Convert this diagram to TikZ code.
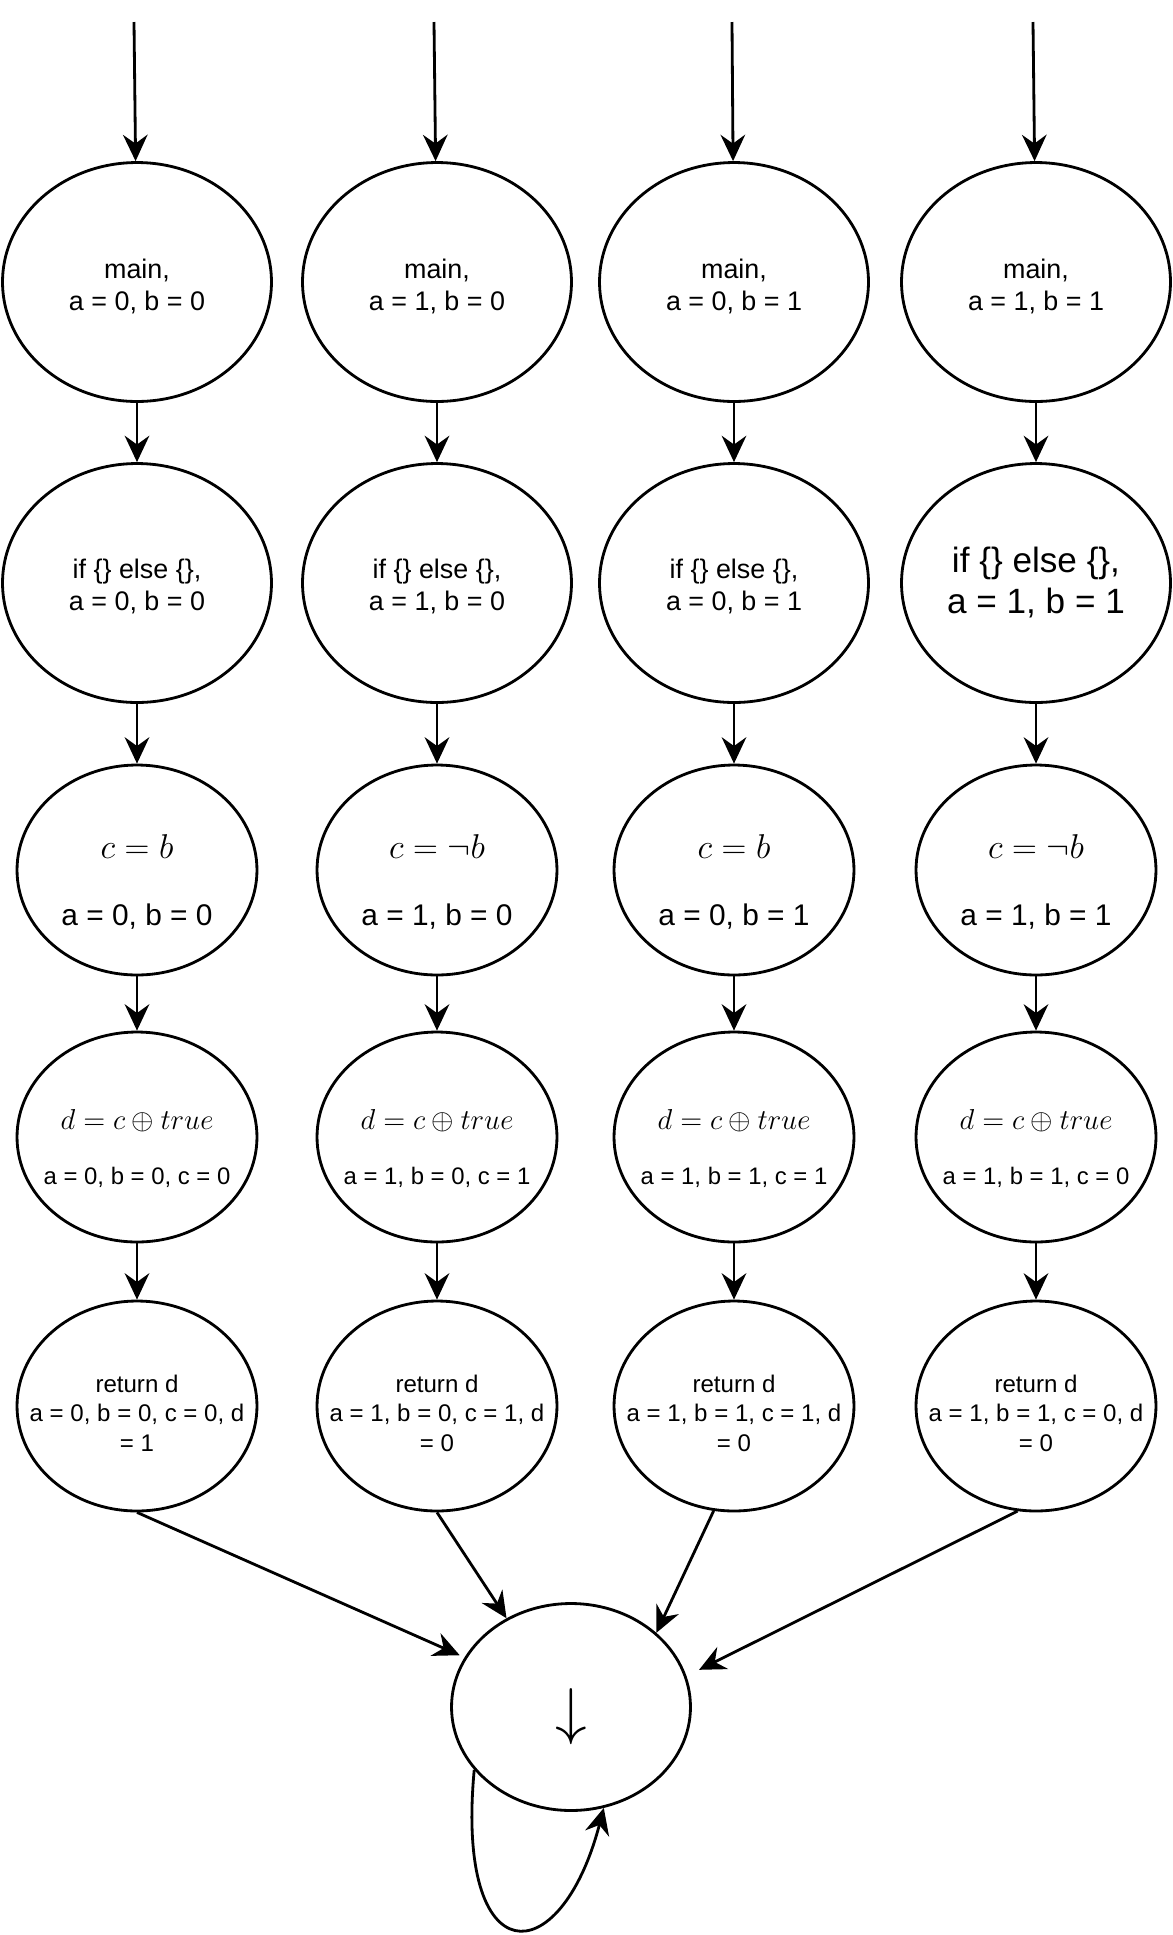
\RequirePackage{fix-cm}
\documentclass[tikz,border=0pt]{standalone}
\usepackage{amsmath}
\usepackage[no-math]{fontspec}
\setmainfont{Liberation Sans}
\usetikzlibrary{arrows.meta,shapes.geometric}

% text lines of a state, set a little lower than the middle
\newcommand{\lowered}[2]{\raisebox{-#1}[\height][\depth]{\begin{tabular}{@{}c@{}}#2\end{tabular}}}

\begin{document}
\begin{tikzpicture}[x=0.02cm,y=-0.02cm,>={Stealth[length=15pt,width=14pt,inset=5pt]},
    state/.style={ellipse,draw,line width=1.6pt,inner sep=0pt,inner xsep=-1.5cm},
    wide/.style={state,minimum width=5.38cm,minimum height=4.78cm,font=\fontsize{15.3}{18.2}\selectfont},
    narrow/.style={state,minimum width=4.8cm,minimum height=4.2cm},
    cnode/.style={narrow,font=\fontsize{17}{20}\selectfont},
    dnode/.style={narrow,font=\fontsize{13.6}{16.3}\selectfont},
    rnode/.style={narrow,font=\fontsize{13.7}{16.8}\selectfont},
    flow/.style={->,line width=1.6pt}]
  \useasboundingbox (0,0) rectangle (1173,1935);
  % entry points
  \coordinate (s0) at (134,22);
  \coordinate (s1) at (434,22);
  \coordinate (s2) at (732,22);
  \coordinate (s3) at (1033,22);
  % main
  \node[wide] (m0) at (137,282) {\lowered{3.5pt}{main,\\a = 0, b = 0}};
  \node[wide] (m1) at (437,282) {\lowered{3.5pt}{main,\\a = 1, b = 0}};
  \node[wide] (m2) at (734,282) {\lowered{3.5pt}{main,\\a = 0, b = 1}};
  \node[wide] (m3) at (1036,282) {\lowered{3.5pt}{main,\\a = 1, b = 1}};
  % if / else
  \node[wide] (i0) at (137,583) {\lowered{3.1pt}{if \{\} else \{\},\\a = 0, b = 0}};
  \node[wide] (i1) at (437,583) {\lowered{3.1pt}{if \{\} else \{\},\\a = 1, b = 0}};
  \node[wide] (i2) at (734,583) {\lowered{3.1pt}{if \{\} else \{\},\\a = 0, b = 1}};
  \node[wide,font=\fontsize{20}{23}\selectfont] (i3) at (1036,583) {\lowered{1.2pt}{if \{\} else \{\},\\a = 1, b = 1}};
  % c
  \node[cnode] (c0) at (137,870) {\lowered{8.7pt}{{\fontsize{19.6}{24}\selectfont$c = b$}\\[18pt]a = 0, b = 0}};
  \node[cnode] (c1) at (437,870) {\lowered{8.7pt}{{\fontsize{19.6}{24}\selectfont$c = \neg b$}\\[18pt]a = 1, b = 0}};
  \node[cnode] (c2) at (734,870) {\lowered{8.7pt}{{\fontsize{19.6}{24}\selectfont$c = b$}\\[18pt]a = 0, b = 1}};
  \node[cnode] (c3) at (1036,870) {\lowered{8.7pt}{{\fontsize{19.6}{24}\selectfont$c = \neg b$}\\[18pt]a = 1, b = 1}};
  % d
  \node[dnode] (d0) at (137,1137) {\lowered{8pt}{{\fontsize{16.4}{19}\selectfont$d = c \oplus true$}\\[15pt]a = 0, b = 0, c = 0}};
  \node[dnode] (d1) at (437,1137) {\lowered{8pt}{{\fontsize{16.4}{19}\selectfont$d = c \oplus true$}\\[15pt]a = 1, b = 0, c = 1}};
  \node[dnode] (d2) at (734,1137) {\lowered{8pt}{{\fontsize{16.4}{19}\selectfont$d = c \oplus true$}\\[15pt]a = 1, b = 1, c = 1}};
  \node[dnode] (d3) at (1036,1137) {\lowered{8pt}{{\fontsize{16.4}{19}\selectfont$d = c \oplus true$}\\[15pt]a = 1, b = 1, c = 0}};
  % return
  \node[rnode] (r0) at (137,1406) {\lowered{5.7pt}{return d\\a = 0, b = 0, c = 0, d\\= 1}};
  \node[rnode] (r1) at (437,1406) {\lowered{5.7pt}{return d\\a = 1, b = 0, c = 1, d\\= 0}};
  \node[rnode] (r2) at (734,1406) {\lowered{5.7pt}{return d\\a = 1, b = 1, c = 1, d\\= 0}};
  \node[rnode] (r3) at (1036,1406) {\lowered{5.7pt}{return d\\a = 1, b = 1, c = 0, d\\= 0}};
  % bottom
  \node[narrow,minimum width=4.78cm,minimum height=4.14cm,font=\fontsize{36}{42}\selectfont] (sink) at (571,1707) {\lowered{6.3pt}{$\downarrow$}};

  \draw[flow] (s0) -- (m0);
  \draw[flow] (s1) -- (m1);
  \draw[flow] (s2) -- (m2);
  \draw[flow] (s3) -- (m3);
  \draw[flow] (m0) -- (i0);
  \draw[flow] (m1) -- (i1);
  \draw[flow] (m2) -- (i2);
  \draw[flow] (m3) -- (i3);
  \draw[flow] (i0) -- (c0);
  \draw[flow] (i1) -- (c1);
  \draw[flow] (i2) -- (c2);
  \draw[flow] (i3) -- (c3);
  \draw[flow] (c0) -- (d0);
  \draw[flow] (c1) -- (d1);
  \draw[flow] (c2) -- (d2);
  \draw[flow] (c3) -- (d3);
  \draw[flow] (d0) -- (r0);
  \draw[flow] (d1) -- (r1);
  \draw[flow] (d2) -- (r2);
  \draw[flow] (d3) -- (r3);
  \draw[flow,shorten >=3pt] (r0.south) -- (sink.155);
  \draw[flow] (r1.south) -- (sink.126);
  \draw[flow] (r2.259) -- (sink.41);
  \draw[flow,shorten >=8pt] (r3.260) -- (sink.15);
  \draw[flow] (sink.213) .. controls (455,1975) and (560,1975) .. (sink.288);
\end{tikzpicture}
\end{document}
